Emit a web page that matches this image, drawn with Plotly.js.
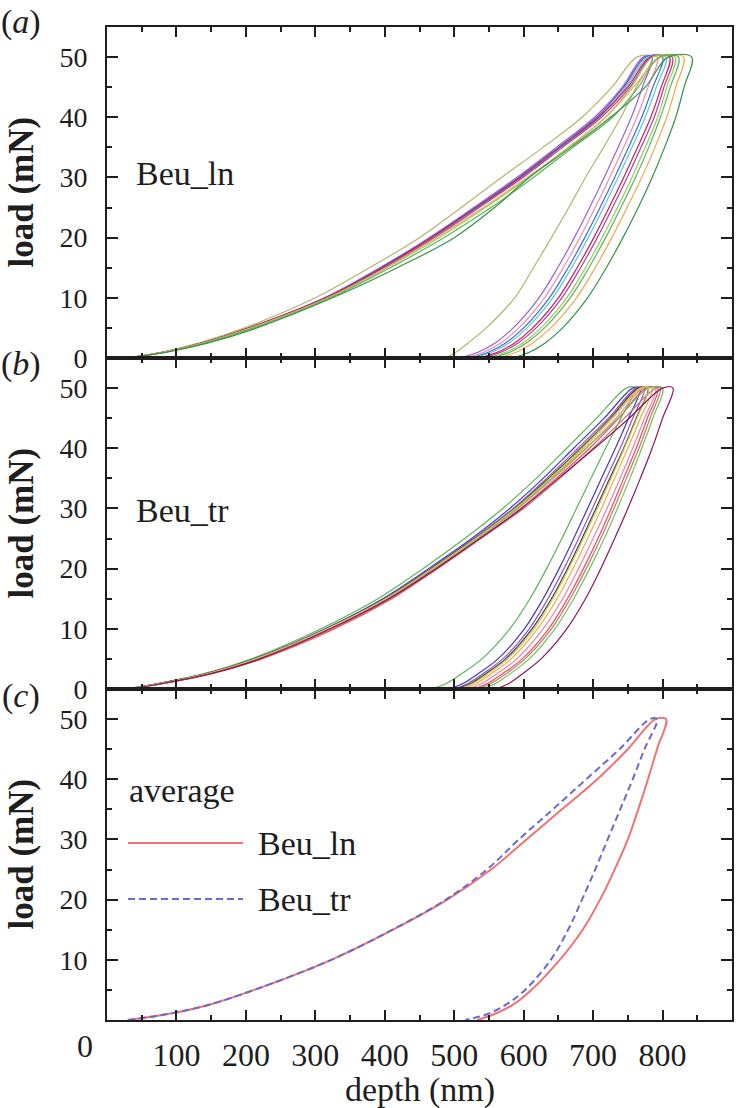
<!DOCTYPE html>
<html>
<head>
<meta charset="utf-8">
<script src="https://cdn.plot.ly/plotly-3.0.1.min.js"></script>
<style>html,body{margin:0;padding:0;background:#fff;}</style>
</head>
<body>
<div id="chart" style="width:738px;height:1108px;"></div>
<script>
// ---------- DATA ----------
// load levels (mN) at which depths (nm) are read
const LOAD_UP   = [0, 1, 2.5, 5, 10, 15, 20, 25, 30, 35, 40, 45, 50];
const LOAD_DOWN = [50, 45, 40, 35, 30, 25, 20, 15, 10, 5, 2.5, 1, 0];

// panel (a) Beu_ln : individual indents (depth in nm)
const A_COLORS = ['#b4b46e', '#a060c8', '#ec8fae', '#3c6ed8', '#5cc8dc', '#c81e50',
                  '#b43ca0', '#96cc5a', '#f0a850', '#5ab45a', '#329646'];
const A_LOAD = [
  [25, 80, 133, 198, 300, 378, 450, 510, 568, 628, 684, 727, 763],
  [28, 82, 137, 204, 313, 393, 464, 528, 590, 647, 702, 742, 772],
  [30, 84, 139, 206, 315, 396, 468, 532, 595, 652, 707, 746, 776],
  [28, 82, 138, 205, 314, 394, 466, 530, 593, 650, 705, 744, 775],
  [30, 83, 139, 207, 316, 397, 469, 534, 597, 654, 709, 748, 779],
  [29, 82, 138, 205, 315, 396, 467, 532, 595, 652, 708, 750, 782],
  [31, 85, 141, 209, 318, 399, 471, 536, 599, 656, 712, 753, 784],
  [29, 84, 140, 208, 320, 403, 478, 545, 607, 664, 718, 755, 786],
  [28, 82, 140, 208, 318, 402, 474, 542, 605, 665, 718, 758, 798],
  [30, 86, 143, 212, 322, 408, 485, 553, 614, 671, 728, 765, 795],
  [30, 88, 146, 216, 325, 418, 500, 558, 608, 668, 725, 775, 808]
];
const A_UNLOAD = [
  [785, 762, 740, 715, 689, 665, 640, 614, 587, 546, 520, 503, 487],
  [785, 771, 755, 736, 716, 695, 673, 649, 622, 585, 559, 535, 508],
  [793, 779, 763, 744, 724, 703, 681, 657, 630, 593, 567, 543, 516],
  [800, 786, 770, 751, 731, 710, 688, 664, 637, 600, 574, 550, 523],
  [805, 791, 775, 756, 736, 715, 693, 669, 642, 605, 579, 555, 528],
  [810, 798, 783, 764, 744, 723, 701, 677, 650, 613, 587, 563, 536],
  [814, 802, 788, 769, 749, 728, 706, 682, 655, 618, 592, 568, 541],
  [818, 806, 793, 775, 756, 735, 713, 689, 662, 625, 599, 575, 548],
  [830, 819, 806, 789, 770, 749, 727, 703, 676, 639, 613, 590, 564],
  [823, 811, 797, 780, 761, 740, 718, 694, 667, 630, 604, 581, 555],
  [842, 831, 819, 803, 785, 765, 743, 719, 692, 656, 631, 609, 584]
];

// panel (b) Beu_tr : individual indents (depth in nm)
const B_COLORS = ['#5ab45a', '#3c3cbe', '#9650c8', '#3c3c3c', '#f0aa46', '#f082aa',
                  '#e65050', '#78be5a', '#be7878', '#c8c850', '#8c145a'];
const B_LOAD = [
  [25, 76, 138, 208, 308, 390, 455, 515, 570, 618, 662, 705, 748],
  [28, 79, 143, 212, 314, 397, 463, 525, 580, 628, 672, 716, 757],
  [30, 80, 144, 214, 316, 399, 466, 528, 585, 633, 678, 722, 762],
  [29, 79, 142, 213, 316, 400, 467, 530, 587, 636, 682, 725, 765],
  [30, 81, 145, 215, 318, 402, 470, 532, 590, 640, 686, 728, 768],
  [31, 84, 148, 220, 325, 408, 474, 535, 592, 643, 690, 733, 772],
  [32, 86, 150, 223, 328, 410, 476, 538, 596, 647, 695, 737, 776],
  [30, 82, 146, 216, 318, 403, 470, 533, 591, 641, 690, 736, 780],
  [30, 82, 146, 218, 320, 405, 473, 538, 600, 652, 700, 745, 790],
  [29, 81, 144, 214, 317, 401, 468, 531, 588, 638, 684, 727, 770],
  [32, 84, 148, 220, 322, 406, 474, 537, 597, 650, 702, 752, 800]
];
const B_UNLOAD = [
  [760, 740, 718, 697, 676, 655, 633, 609, 580, 540, 510, 490, 468],
  [768, 751, 732, 712, 692, 672, 651, 628, 601, 563, 534, 514, 492],
  [774, 757, 739, 719, 699, 679, 658, 635, 608, 570, 541, 521, 500],
  [779, 762, 744, 724, 704, 684, 663, 640, 612, 574, 545, 525, 503],
  [785, 768, 750, 731, 712, 692, 671, 648, 620, 582, 553, 533, 512],
  [790, 774, 757, 739, 720, 700, 679, 656, 628, 590, 561, 541, 520],
  [793, 778, 762, 744, 726, 707, 686, 663, 636, 598, 569, 549, 528],
  [800, 786, 770, 753, 735, 716, 695, 672, 645, 608, 580, 561, 540],
  [797, 782, 766, 748, 730, 711, 690, 667, 640, 602, 574, 554, 533],
  [780, 763, 745, 726, 706, 686, 665, 642, 615, 577, 548, 528, 507],
  [815, 800, 785, 768, 750, 731, 711, 689, 662, 625, 598, 580, 560]
];

// panel (c) averages
const AVG_NAMES  = ['Beu_ln', 'Beu_tr'];
const LN_LOAD    = [30, 88, 146, 212, 323, 412, 490, 553, 604, 655, 706, 750, 790];
const LN_UNLOAD  = [805, 792, 779, 765, 750, 731, 710, 685, 652, 611, 584, 558, 533];
const TR_LOAD    = [30, 88, 146, 212, 323, 411, 488, 547, 593, 642, 690, 738, 782];
const TR_UNLOAD  = [792, 774, 757, 739, 721, 703, 684, 664, 639, 602, 574, 548, 516];

const X_TICKS = [0, 100, 200, 300, 400, 500, 600, 700, 800];
const X_TICK_TEXT = ['', '100', '200', '300', '400', '500', '600', '700', '800'];
const Y_TICKS_AB = [0, 10, 20, 30, 40, 50];
const Y_TICKS_C = [10, 20, 30, 40, 50];

// ---------- TRACES ----------
const FONT = 'Liberation Serif, Times New Roman, serif';
const INK = '#1e1e1e';
const traces = [];
function addCurves(colors, loads, unloads, xa, ya) {
  for (let i = 0; i < loads.length; i++) {
    traces.push({
      type: 'scatter', mode: 'lines',
      x: loads[i].concat(unloads[i]),
      y: LOAD_UP.concat(LOAD_DOWN),
      xaxis: xa, yaxis: ya,
      line: {color: colors[i], width: 1.2, shape: 'spline', smoothing: 1.0},
      hoverinfo: 'skip'
    });
  }
}
addCurves(A_COLORS, A_LOAD, A_UNLOAD, 'x', 'y');
addCurves(B_COLORS, B_LOAD, B_UNLOAD, 'x2', 'y2');
traces.push({
  type: 'scatter', mode: 'lines', name: AVG_NAMES[0],
  x: LN_LOAD.concat(LN_UNLOAD), y: LOAD_UP.concat(LOAD_DOWN),
  xaxis: 'x3', yaxis: 'y3',
  line: {color: '#f07272', width: 2, shape: 'spline', smoothing: 1.0}
});
traces.push({
  type: 'scatter', mode: 'lines', name: AVG_NAMES[1],
  x: TR_LOAD.concat(TR_UNLOAD), y: LOAD_UP.concat(LOAD_DOWN),
  xaxis: 'x3', yaxis: 'y3',
  line: {color: '#6a6ad0', width: 2, dash: '7px,4px', shape: 'spline', smoothing: 1.0}
});

// ---------- LAYOUT ----------
function xAxis(anchor, labels) {
  return {
    anchor: anchor, domain: [0, 1], range: [0, 900],
    showline: true, linecolor: INK, linewidth: 2, mirror: 'ticks',
    ticks: 'inside', ticklen: 10, tickwidth: 2, tickcolor: INK,
    tickmode: 'array', tickvals: X_TICKS, ticktext: X_TICK_TEXT,
    showticklabels: labels, ticklabelstandoff: 6,
    tickfont: {family: FONT, size: 32, color: INK},
    minor: {dtick: 50, tick0: 0, ticks: 'inside', ticklen: 5, tickwidth: 2, tickcolor: INK, showgrid: false},
    showgrid: false, zeroline: false, fixedrange: true
  };
}
function yAxis(anchor, domain, ticks) {
  return {
    anchor: anchor, domain: domain, range: [0, 55],
    showline: true, linecolor: INK, linewidth: 2, mirror: 'ticks',
    ticks: 'inside', ticklen: 11, tickwidth: 2, tickcolor: INK,
    tickmode: 'array', tickvals: ticks, ticklabelstandoff: 12,
    tickfont: {family: FONT, size: 28, color: INK},
    minor: {dtick: 5, tick0: 0, ticks: 'inside', ticklen: 5, tickwidth: 2, tickcolor: INK, showgrid: false},
    showgrid: false, zeroline: false, fixedrange: true
  };
}

const PW = 738 - 107 - 6;   // plot width in px
const PH = 1108 - 27 - 88;  // plot height in px
const px = v => (v - 107) / PW;
const py = v => (1020 - v) / PH;

const ann = [];
const txt = (s, x, y, opts) => Object.assign({text: s, x: x, y: y, xref: 'paper', yref: 'paper',
  showarrow: false, font: {family: FONT, size: 34, color: INK}}, opts || {});

ann.push(txt('(<i>a</i>)', px(21), py(22), {xanchor: 'center', yanchor: 'middle'}));
ann.push(txt('(<i>b</i>)', px(21), py(364), {xanchor: 'center', yanchor: 'middle'}));
ann.push(txt('(<i>c</i>)', px(21), py(696), {xanchor: 'center', yanchor: 'middle'}));
[192.5, 523.5, 854.5].forEach(c => ann.push(txt('<b>load (mN)</b>', px(21), py(c),
  {xanchor: 'center', yanchor: 'middle', textangle: -90, font: {family: FONT, size: 35, color: INK}})));
ann.push(txt('Beu_ln', px(134), 30.7, {yref: 'y', xanchor: 'left', yanchor: 'middle'}));
ann.push(txt('Beu_tr', px(134), 29.7, {yref: 'y2', xanchor: 'left', yanchor: 'middle'}));
ann.push(txt('average', px(127), 38.2, {yref: 'y3', xanchor: 'left', yanchor: 'middle'}));
ann.push(txt(AVG_NAMES[0], px(256), 29.4, {yref: 'y3', xanchor: 'left', yanchor: 'middle'}));
ann.push(txt(AVG_NAMES[1], px(256), 20.1, {yref: 'y3', xanchor: 'left', yanchor: 'middle'}));
ann.push(txt('depth (nm)', 0.5, py(1090), {xanchor: 'center', yanchor: 'middle', font: {family: FONT, size: 34, color: INK}}));
ann.push(txt('0', px(85), py(1046), {xanchor: 'center', yanchor: 'middle', font: {family: FONT, size: 32, color: INK}}));

const shapes = [
  {type: 'line', xref: 'paper', yref: 'y3', x0: px(128), x1: px(243), y0: 29.4, y1: 29.4,
   line: {color: '#f07272', width: 2}},
  {type: 'line', xref: 'paper', yref: 'y3', x0: px(128), x1: px(243), y0: 20.1, y1: 20.1,
   line: {color: '#6a6ad0', width: 2, dash: '7px,4px'}}
];

const layout = {
  width: 738, height: 1108,
  margin: {l: 107, r: 6, t: 27, b: 88, pad: 0},
  paper_bgcolor: '#ffffff', plot_bgcolor: '#ffffff',
  showlegend: false,
  font: {family: FONT, color: INK, size: 32},
  xaxis: xAxis('y', false),
  xaxis2: xAxis('y2', false),
  xaxis3: xAxis('y3', true),
  yaxis: yAxis('x', [2/3, 1], Y_TICKS_AB),
  yaxis2: yAxis('x2', [1/3, 2/3], Y_TICKS_AB),
  yaxis3: yAxis('x3', [0, 1/3], Y_TICKS_C),
  annotations: ann,
  shapes: shapes
};

Plotly.newPlot('chart', traces, layout, {staticPlot: true, displayModeBar: false});
</script>
</body>
</html>
